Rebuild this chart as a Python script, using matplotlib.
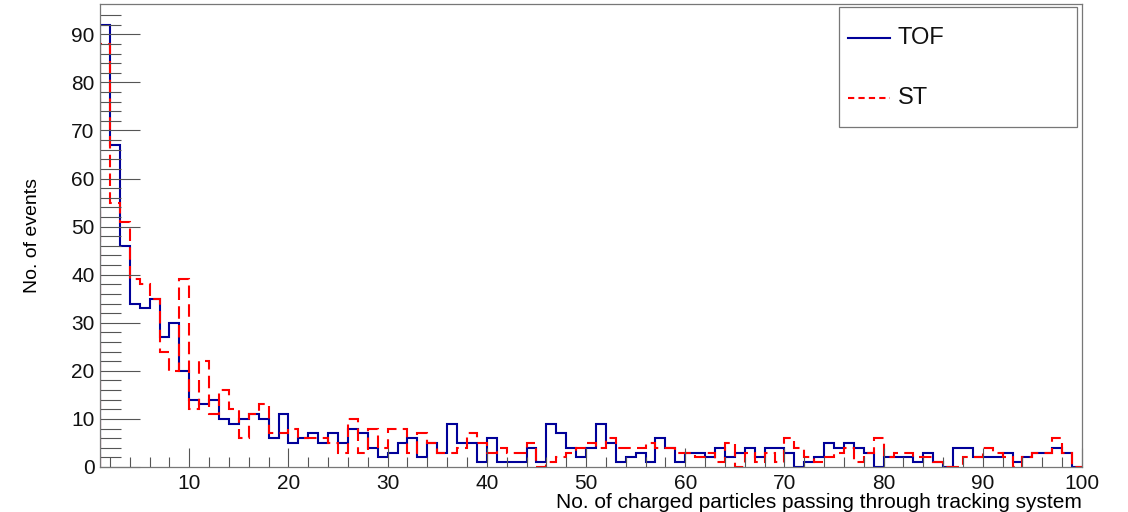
import numpy as np
import matplotlib
matplotlib.use('Agg')
import matplotlib.pyplot as plt
from matplotlib.lines import Line2D
from matplotlib.patches import Rectangle

plt.rcParams['font.family'] = ['Liberation Sans', 'DejaVu Sans']

# bin edges: one bin per unit from 1 to 100
bin_edges = np.arange(1, 101)

tof_counts = [92, 67, 46, 34, 33, 35, 27, 30, 20, 14,
              13, 14, 10, 9, 10, 11, 10, 6, 11, 5,
              6, 7, 5, 7, 5, 8, 7, 4, 2, 3,
              5, 6, 2, 5, 3, 9, 5, 5, 1, 6,
              1, 1, 1, 4, 1, 9, 7, 4, 2, 4,
              9, 5, 1, 2, 3, 1, 6, 4, 1, 3,
              3, 2, 4, 2, 3, 4, 2, 4, 4, 3,
              0, 1, 2, 5, 4, 5, 4, 3, 0, 2,
              2, 2, 1, 3, 1, 0, 4, 4, 2, 2,
              2, 3, 1, 2, 3, 3, 4, 3, 0]

st_counts = [88, 55, 51, 39, 38, 35, 24, 20, 39, 12,
             22, 11, 16, 12, 6, 11, 13, 7, 7, 8,
             6, 6, 6, 5, 3, 10, 3, 8, 4, 8,
             8, 3, 7, 5, 3, 3, 4, 7, 5, 3,
             4, 3, 3, 5, 0, 1, 2, 3, 4, 5,
             4, 6, 4, 4, 4, 5, 4, 4, 3, 3,
             2, 3, 1, 5, 0, 3, 1, 3, 1, 6,
             4, 2, 1, 2, 3, 4, 1, 3, 6, 2,
             3, 3, 2, 2, 1, 0, 0, 2, 2, 4,
             3, 2, 0, 2, 3, 3, 6, 3, 0]

labels = ['TOF', 'ST']

fig = plt.figure(figsize=(11.28, 5.12), dpi=100)
ax = fig.add_axes([100/1128, 1 - 467/512, 982/1128, 463/512])

ax.stairs(tof_counts, bin_edges, color='#000099', linewidth=1.5)
ax.stairs(st_counts, bin_edges, color='#ff0000', linewidth=1.5,
          linestyle=(0, (6, 3)))

ax.set_xlim(1, 100)
ax.set_ylim(0, 96.3)

ax.set_xticks(np.arange(10, 101, 10))
ax.set_xticks(np.arange(2, 101, 2), minor=True)
ax.set_yticks(np.arange(0, 91, 10))
ax.set_yticks(np.arange(0, 96, 2), minor=True)

ax.tick_params(axis='both', which='both', direction='in', colors='#555555',
               labelcolor='#111111', labelsize=15, width=0.8)
ax.tick_params(axis='y', which='major', length=29, pad=4)
ax.tick_params(axis='y', which='minor', length=15)
ax.tick_params(axis='x', which='major', length=14, pad=5)
ax.tick_params(axis='x', which='minor', length=7)

for s in ax.spines.values():
    s.set_color('#777777')
    s.set_linewidth(0.9)

ax.set_xlabel('No. of charged particles passing through tracking system',
              fontsize=15, loc='right', labelpad=0)
ax.set_ylabel('No. of events', fontsize=14, labelpad=22)

# legend box drawn like ROOT's TLegend
fig.patches.append(Rectangle((839/1128, 1 - 127/512), 238/1128, 120/512,
                             transform=fig.transFigure, fill=True,
                             facecolor='white', edgecolor='#777777',
                             linewidth=0.9, zorder=5))
fig.lines.append(Line2D([848/1128, 890/1128], [1 - 38/512, 1 - 38/512],
                        transform=fig.transFigure, color='#000099',
                        linewidth=1.5, zorder=6))
fig.lines.append(Line2D([848/1128, 890/1128], [1 - 98/512, 1 - 98/512],
                        transform=fig.transFigure, color='#ff0000',
                        linewidth=1.5, linestyle=(0, (3, 2)), zorder=6))
fig.text(898/1128, 1 - 38/512, labels[0], fontsize=17, va='center',
         color='#111111', zorder=7)
fig.text(898/1128, 1 - 98/512, labels[1], fontsize=17, va='center',
         color='#111111', zorder=7)

fig.savefig('out.png', dpi=100)
